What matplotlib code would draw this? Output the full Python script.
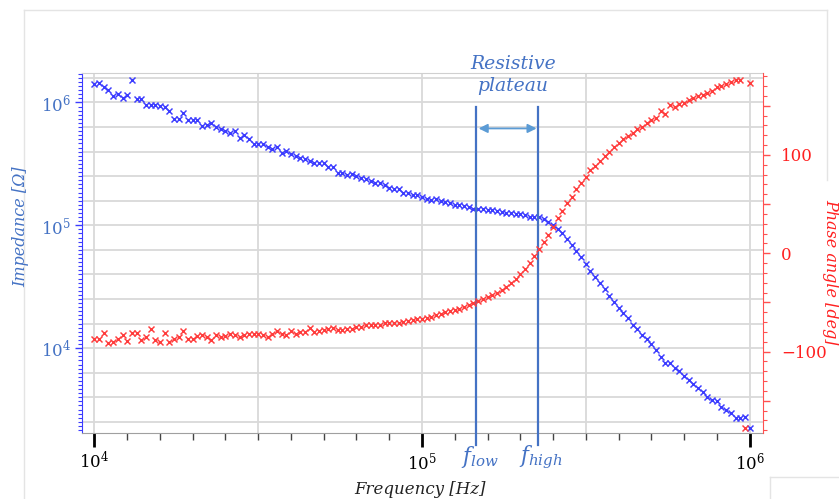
import numpy as np
import matplotlib
matplotlib.use('Agg')
import matplotlib.pyplot as plt
from matplotlib import ticker, transforms
from matplotlib.lines import Line2D

plt.rcParams['font.family'] = ['DejaVu Serif']
plt.rcParams['mathtext.fontset'] = 'dejavuserif'

# ---------------- data ----------------
# frequency sweep: 141 log-spaced points from 10 kHz to 1 MHz
freq = np.logspace(4, 6, 141)

impedance = [
    1.416e6, 1.432e6, 1.346e6, 1.265e6, 1.130e6, 1.167e6, 1.081e6, 1.143e6, 1.524e6, 1.062e6,
    1.062e6, 9.59e5, 9.48e5, 9.48e5, 9.35e5, 9.14e5, 8.57e5, 7.29e5, 7.38e5, 8.26e5,
    7.19e5, 7.19e5, 7.19e5, 6.44e5, 6.56e5, 6.76e5, 6.35e5, 6.12e5, 5.89e5, 5.68e5,
    5.82e5, 5.14e5, 5.41e5, 5.01e5, 4.59e5, 4.59e5, 4.59e5, 4.37e5, 4.21e5, 4.32e5,
    3.85e5, 4.01e5, 3.81e5, 3.66e5, 3.53e5, 3.44e5, 3.36e5, 3.20e5, 3.20e5, 3.20e5,
    2.96e5, 3.00e5, 2.68e5, 2.65e5, 2.58e5, 2.62e5, 2.52e5, 2.43e5, 2.37e5, 2.28e5,
    2.22e5, 2.20e5, 2.12e5, 2.01e5, 1.96e5, 1.99e5, 1.84e5, 1.82e5, 1.77e5, 1.75e5,
    1.71e5, 1.63e5, 1.61e5, 1.63e5, 1.57e5, 1.55e5, 1.51e5, 1.47e5, 1.46e5, 1.44e5,
    1.40e5, 1.35e5, 1.36e5, 1.35e5, 1.32e5, 1.32e5, 1.30e5, 1.28e5, 1.27e5, 1.25e5,
    1.24e5, 1.24e5, 1.21e5, 1.17e5, 1.17e5, 1.17e5, 1.12e5, 1.06e5, 1.00e5, 9.27e4,
    8.61e4, 7.69e4, 6.92e4, 6.18e4, 5.48e4, 4.84e4, 4.25e4, 3.81e4, 3.37e4, 3.01e4,
    2.65e4, 2.37e4, 2.12e4, 1.92e4, 1.75e4, 1.53e4, 1.43e4, 1.27e4, 1.19e4, 1.09e4,
    9.66e3, 8.41e3, 7.60e3, 7.52e3, 6.93e3, 6.52e3, 5.96e3, 5.50e3, 5.11e3, 4.76e3,
    4.40e3, 4.00e3, 3.78e3, 3.71e3, 3.33e3, 3.13e3, 2.98e3, 2.71e3, 2.68e3, 2.75e3,
    2.25e3,
]

phase = [
    -86.9, -86.9, -80.8, -90.9, -90.2, -87.5, -83.4, -89.5, -81.4, -80.8,
    -88.2, -84.8, -77.3, -88.2, -90.2, -81.4, -90.2, -87.5, -85.5, -79.3,
    -87.5, -87.5, -84.1, -82.8, -84.8, -88.2, -82.8, -84.8, -84.1, -82.1,
    -82.8, -84.8, -82.8, -82.1, -82.1, -82.1, -83.4, -84.8, -82.1, -79.3,
    -82.1, -82.8, -78.7, -82.1, -80.1, -80.1, -76.0, -80.1, -78.7, -78.0,
    -77.3, -76.0, -78.0, -78.0, -76.7, -76.7, -75.3, -74.6, -73.2, -73.2,
    -73.2, -72.6, -70.6, -70.6, -71.2, -71.2, -69.9, -68.6, -67.9, -66.5,
    -66.5, -65.8, -64.5, -63.1, -61.7, -59.7, -59.0, -57.7, -56.3, -54.3,
    -52.3, -50.3, -48.8, -46.8, -44.8, -42.1, -40.1, -37.3, -34.6, -30.5,
    -26.4, -21.1, -15.7, -9.6, -2.7, 4.1, 11.5, 18.9, 27.1, 35.9,
    43.3, 50.9, 57.6, 65.1, 71.2, 77.9, 84.7, 88.8, 94.2, 99.0,
    103.1, 107.8, 111.9, 116.0, 119.3, 122.7, 126.1, 128.8, 132.2, 135.6,
    137.6, 144.5, 141.7, 150.6, 148.5, 151.9, 153.2, 156.0, 158.0, 160.0,
    161.3, 163.4, 165.4, 168.9, 170.2, 172.2, 174.3, 176.3, 176.3, -177.4,
    173.6,
]

f_low = 1.46e5
f_high = 2.26e5

x_ticks = [1e4, 1e5, 1e6]
imp_ticks = [1e4, 1e5, 1e6]
phase_labels = [-100, 0, 100]

# ---------------- style ----------------
BLUE_M = '#3c3cff'
RED_M = '#ff3c3c'
BLUE_T = '#4472c4'
RED_T = '#ff2020'
GRID = '#d9d9d9'

W, H = 839, 499
fig = plt.figure(figsize=(W / 100, H / 100), dpi=100)
ax = fig.add_axes([82 / W, 1 - 433 / H, (763 - 82) / W, (433 - 73) / H])
ax2 = ax.twinx()

ax.set_xscale('log')
ax.set_yscale('log')
ax.set_xlim(10 ** 3.962, 10 ** 6.041)
ax.set_ylim(10 ** 3.309, 10 ** 6.240)
ax2.set_ylim(-182.8, 183.4)

# grid
for g in 10 ** np.arange(4, 6.01, 0.5):
    ax.axvline(g, color=GRID, lw=1.3, zorder=0)
for g in 10 ** np.arange(3.4, 6.21, 0.2):
    ax.axhline(g, color=GRID, lw=1.3, zorder=0)

ax.plot(freq, impedance, linestyle='none', marker='x', ms=4.2, mew=1.05,
        color=BLUE_M, zorder=3)
ax2.plot(freq, phase, linestyle='none', marker='x', ms=4.2, mew=1.05,
         color=RED_M, zorder=3)

# x axis
ax.xaxis.set_major_locator(ticker.FixedLocator(x_ticks))
ax.xaxis.set_major_formatter(ticker.LogFormatterMathtext())
ax.xaxis.set_minor_locator(ticker.FixedLocator(10 ** np.arange(4, 6.001, 0.1)))
ax.xaxis.set_minor_formatter(ticker.NullFormatter())
ax.tick_params(axis='x', which='major', length=10, width=2, color='black',
               labelsize=12, pad=3, labelcolor='black')
ax.tick_params(axis='x', which='minor', length=5, width=1, color='#444444')

# left axis
ax.yaxis.set_major_locator(ticker.FixedLocator(imp_ticks))
ax.yaxis.set_major_formatter(ticker.LogFormatterMathtext())
ax.yaxis.set_minor_locator(ticker.FixedLocator(10 ** np.arange(3.3, 6.25, 1 / 30)))
ax.yaxis.set_minor_formatter(ticker.NullFormatter())
ax.tick_params(axis='y', which='major', length=5, width=1, color=BLUE_M,
               labelcolor=BLUE_T, labelsize=12, pad=3)
ax.tick_params(axis='y', which='minor', length=3, width=0.8, color=BLUE_M)

# right axis
ax2.yaxis.set_major_locator(ticker.MultipleLocator(50))
ax2.yaxis.set_minor_locator(ticker.MultipleLocator(10))
ax2.yaxis.set_major_formatter(ticker.FuncFormatter(
    lambda v, p: (f'{v:.0f}'.replace('-', '\u2212') if round(v) in phase_labels else '')))
ax2.tick_params(axis='y', which='major', length=5, width=1, color='#ff5050',
                labelcolor=RED_T, labelsize=12, pad=8)
ax2.tick_params(axis='y', which='minor', length=3, width=0.8, color='#ff5050')

# spines
for s in ['left', 'top', 'bottom']:
    ax2.spines[s].set_visible(False)
ax.spines['right'].set_visible(False)
ax.spines['left'].set_color(BLUE_M)
ax.spines['top'].set_color('#d0d0d0')
ax.spines['bottom'].set_color('#a0a0a0')
ax2.spines['right'].set_color('#ff5050')

# f_low / f_high lines
trans = transforms.blended_transform_factory(ax.transData, ax.transAxes)
for f in (f_low, f_high):
    ax.plot([f, f], [-0.033, 0.906], transform=trans, color=BLUE_T, lw=1.6,
            clip_on=False, zorder=4)
ax.annotate('', xy=(f_low, 0.846), xytext=(f_high, 0.846), xycoords=trans,
            textcoords=trans,
            arrowprops=dict(arrowstyle='<|-|>', color='#5b9bd5', lw=1.3,
                            mutation_scale=13, shrinkA=1, shrinkB=2))

def fx(px):
    return px / W

def fy(py):
    return 1 - py / H

# faint outer frame of the picture
FRAME = '#e4e4e4'
for xs, ys in [((24, 24), (10, 499)), ((24, 827), (10, 10)),
               ((827, 827), (10, 180)), ((770, 839), (477, 477)),
               ((770, 770), (477, 499))]:
    fig.add_artist(Line2D([fx(xs[0]), fx(xs[1])], [fy(ys[0]), fy(ys[1])],
                          transform=fig.transFigure, color=FRAME, lw=1.0))

fig.text(fx(513), fy(75), 'Resistive\nplateau', ha='center', va='center',
         style='italic', color=BLUE_T, fontsize=13.5, linespacing=1.25)
fig.text(fx(480), fy(457), r'$f_{low}$', ha='center', va='center',
         color=BLUE_T, fontsize=15.5)
fig.text(fx(541), fy(457), r'$f_{high}$', ha='center', va='center',
         color=BLUE_T, fontsize=15.5)

fig.text(fx(21), fy(227), 'Impedance [\u03a9]', rotation=90, ha='center',
         va='center', style='italic', color=BLUE_T, fontsize=11.5)
fig.text(fx(831), fy(272), 'Phase angle [deg]', rotation=270, ha='center',
         va='center', style='italic', color=RED_T, fontsize=11.5)
fig.text(fx(420), fy(490), 'Frequency [Hz]', ha='center', va='center',
         style='italic', color='#222222', fontsize=12)

fig.savefig('out.png', dpi=100)
